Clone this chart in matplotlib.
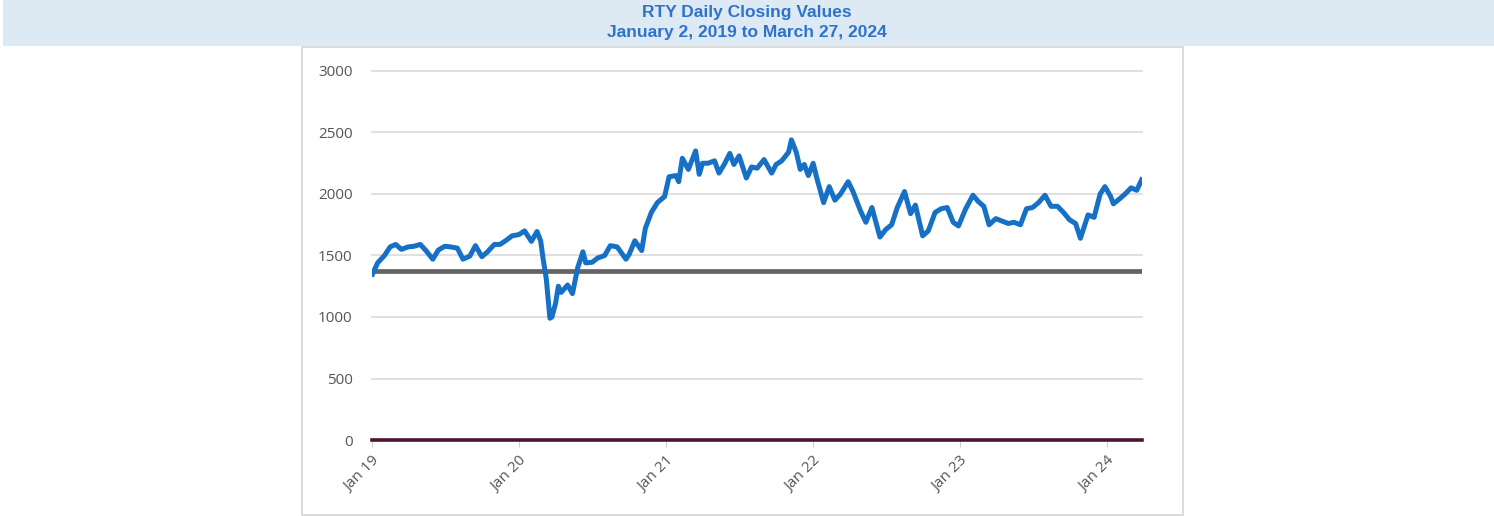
import matplotlib
matplotlib.use("Agg")
import matplotlib.pyplot as plt
from matplotlib.patches import Rectangle
import pandas as pd

# RTY closing values, read off the reference roughly twice a month
dates = [
    "2019-01-02", "2019-01-15", "2019-02-01", "2019-02-15", "2019-03-01", "2019-03-15",
    "2019-04-01", "2019-04-15", "2019-05-01", "2019-05-15", "2019-06-01", "2019-06-15",
    "2019-07-01", "2019-07-15", "2019-08-01", "2019-08-15", "2019-09-01", "2019-09-15",
    "2019-10-01", "2019-10-15", "2019-11-01", "2019-11-15", "2019-12-01", "2019-12-15",
    "2020-01-01", "2020-01-15", "2020-02-01", "2020-02-15", "2020-02-24", "2020-03-01",
    "2020-03-09", "2020-03-18", "2020-03-23", "2020-04-01", "2020-04-08", "2020-04-15",
    "2020-05-01", "2020-05-13", "2020-05-26", "2020-06-08", "2020-06-15", "2020-07-01",
    "2020-07-15", "2020-08-01", "2020-08-15", "2020-09-01", "2020-09-23", "2020-10-01",
    "2020-10-15", "2020-11-01", "2020-11-10", "2020-11-25", "2020-12-10", "2020-12-28",
    "2021-01-08", "2021-01-25", "2021-02-01", "2021-02-10", "2021-02-25", "2021-03-15",
    "2021-03-24", "2021-04-01", "2021-04-15", "2021-05-01", "2021-05-12", "2021-05-25",
    "2021-06-08", "2021-06-18", "2021-07-01", "2021-07-19", "2021-08-01", "2021-08-15",
    "2021-09-01", "2021-09-20", "2021-10-01", "2021-10-15", "2021-11-01", "2021-11-08",
    "2021-11-20", "2021-11-30", "2021-12-10", "2021-12-20",
    "2022-01-01", "2022-01-10", "2022-01-27", "2022-02-10", "2022-02-24", "2022-03-10",
    "2022-03-29", "2022-04-10", "2022-04-29", "2022-05-12", "2022-05-27", "2022-06-16",
    "2022-06-30", "2022-07-15", "2022-07-29", "2022-08-16", "2022-08-31", "2022-09-12",
    "2022-09-30", "2022-10-14", "2022-10-31", "2022-11-15", "2022-11-30", "2022-12-15",
    "2022-12-28",
    "2023-01-15", "2023-02-02", "2023-02-15", "2023-03-01", "2023-03-14", "2023-03-31",
    "2023-04-15", "2023-05-01", "2023-05-15", "2023-05-31", "2023-06-15", "2023-06-30",
    "2023-07-15", "2023-07-31", "2023-08-15", "2023-08-31", "2023-09-15", "2023-09-30",
    "2023-10-15", "2023-10-27", "2023-11-07", "2023-11-15", "2023-11-30", "2023-12-15",
    "2023-12-27",
    "2024-01-10", "2024-01-17", "2024-02-01", "2024-02-15", "2024-03-01", "2024-03-15",
    "2024-03-27",
]
closes = [
    1348, 1440, 1500, 1570, 1590, 1550,
    1570, 1575, 1590, 1540, 1470, 1545,
    1575, 1570, 1560, 1470, 1495, 1580,
    1490, 1530, 1590, 1590, 1625, 1660,
    1670, 1700, 1615, 1695, 1620, 1475,
    1310, 990, 1000, 1110, 1250, 1200,
    1260, 1190, 1400, 1530, 1440, 1445,
    1480, 1500, 1580, 1570, 1470, 1510,
    1620, 1540, 1720, 1850, 1930, 1980,
    2140, 2150, 2100, 2290, 2200, 2350,
    2160, 2250, 2250, 2270, 2170, 2240,
    2330, 2240, 2310, 2130, 2220, 2210,
    2280, 2170, 2240, 2270, 2340, 2440,
    2340, 2200, 2240, 2150,
    2250, 2130, 1930, 2060, 1950, 2000,
    2100, 2020, 1860, 1770, 1890, 1650,
    1710, 1750, 1890, 2020, 1840, 1910,
    1660, 1700, 1850, 1880, 1890, 1770,
    1740,
    1880, 1990, 1940, 1900, 1750, 1800,
    1780, 1760, 1770, 1750, 1880, 1890,
    1930, 1990, 1900, 1900, 1850, 1790,
    1760, 1640, 1750, 1830, 1810, 2000,
    2060,
    1980, 1920, 1960, 2000, 2050, 2030,
    2115,
]
barrier = 1374
y_ticks = [0, 500, 1000, 1500, 2000, 2500, 3000]
x_ticks = ["2019-01-01", "2020-01-01", "2021-01-01", "2022-01-01", "2023-01-01", "2024-01-01"]
x_labels = ["Jan 19", "Jan 20", "Jan 21", "Jan 22", "Jan 23", "Jan 24"]
title_lines = ["RTY Daily Closing Values", "January 2, 2019 to March 27, 2024"]

W, H = 1494, 516
fig = plt.figure(figsize=(W / 100, H / 100), dpi=100)
fig.patch.set_facecolor("white")

# title banner
fig.patches.append(Rectangle((3 / W, 1 - 46 / H), 1 - 3 / W, 46 / H, transform=fig.transFigure,
                             facecolor="#dde9f3", edgecolor="none", zorder=0))
fig.text(0.5, 1 - 13 / H, title_lines[0], ha="center", va="center", color="#2f73c9",
         fontsize=12.5, fontweight="bold", family="Liberation Sans")
fig.text(0.5, 1 - 33 / H, title_lines[1], ha="center", va="center", color="#2f73c9",
         fontsize=12.5, fontweight="bold", family="Liberation Sans")

# chart frame
fig.patches.append(Rectangle((302 / W, 1 / H), 881 / W, (515 - 47) / H, transform=fig.transFigure,
                             facecolor="none", edgecolor="#d4d4d4", lw=1.2, zorder=0))

x_left, x_right, y_bot, y_top = 372, 1142, 440, 71
ax = fig.add_axes([x_left / W, 1 - y_bot / H, (x_right - x_left) / W, (y_bot - y_top) / H])
ax.set_facecolor("none")

d = pd.to_datetime(dates)
ax.set_xlim(pd.Timestamp("2019-01-01"), pd.Timestamp("2024-03-28"))
ax.set_ylim(0, 3000)

for yv in y_ticks[1:]:
    ax.axhline(yv, color="#dadada", lw=1.2, zorder=1, clip_on=False)
ax.axhline(0, color="#4b1530", lw=2.6, zorder=3, clip_on=False)
ax.axhline(barrier, color="#646464", lw=3.4, zorder=2)
ax.plot(d, closes, color="#1670c6", lw=3.6, zorder=4, solid_joinstyle="round")

for s in ax.spines.values():
    s.set_visible(False)
ax.set_yticks(y_ticks)
ax.set_yticklabels([str(v) for v in y_ticks], family="Open Sans", fontsize=11, color="#555555")
ax.tick_params(axis="y", length=0, pad=14)
ax.set_xticks(pd.to_datetime(x_ticks))
ax.set_xticklabels(x_labels, rotation=45, ha="right", rotation_mode="anchor",
                   family="Open Sans", fontsize=11, color="#555555")
ax.tick_params(axis="x", length=5, color="#d0d0d0", pad=5)

fig.savefig("out.png", dpi=100)
